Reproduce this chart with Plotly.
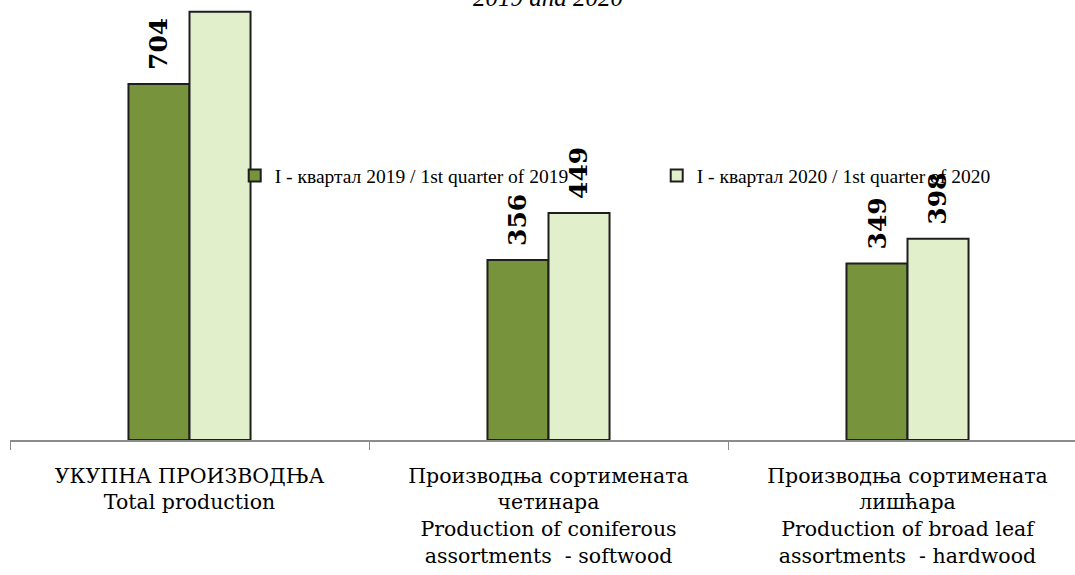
import plotly.graph_objects as go

categories = [
    "УКУПНА ПРОИЗВОДЊА<br>Total production",
    "Производња сортимената<br>четинара<br>Production of coniferous<br>assortments  - softwood",
    "Производња сортимената<br>лишћара<br>Production of broad leaf<br>assortments  - hardwood",
]
series_names = ["I - квартал 2019 / 1st quarter of 2019", "I - квартал 2020 / 1st quarter of 2020"]
q1_2019 = [704, 356, 349]
q1_2020 = [847, 449, 398]
title_tail = "2019 and 2020"

colors = ["#77933C", "#E1EFCB"]
Y_MAX = 870
BARGAP = 0.66

fig = go.Figure()
for name, vals, col in zip(series_names, [q1_2019, q1_2020], colors):
    fig.add_trace(go.Bar(
        x=categories, y=vals, name=name,
        marker=dict(color=col, line=dict(color="#1E1E1E", width=2)),
    ))

# value labels, rotated, above each bar
half = (1 - BARGAP) / 4
for s, vals in enumerate([q1_2019, q1_2020]):
    off = -half if s == 0 else half
    for i, v in enumerate(vals):
        if v > Y_MAX * 0.9:
            continue  # label falls outside the visible area in the reference
        fig.add_annotation(
            x=i + off, y=v, xref="x", yref="y", text="<b>" + str(v) + "</b>", showarrow=False,
            textangle=-90, yanchor="bottom", xanchor="center", yshift=12,
            font=dict(family="DejaVu Serif", size=25, color="#000000"),
        )

fig.add_annotation(
    x=(548 - 10) / 1065, y=1, xref="paper", yref="paper", text="<i>" + title_tail + "</i>",
    showarrow=False, xanchor="center", yanchor="middle", yshift=3,
    font=dict(family="Liberation Serif", size=25, color="#000000"),
)

fig.update_layout(
    width=1075, height=575,
    margin=dict(l=10, r=0, t=0, b=135, autoexpand=False),
    paper_bgcolor="white", plot_bgcolor="white",
    barmode="group", bargap=BARGAP, bargroupgap=0,
    showlegend=True,
    legend=dict(
        orientation="h", x=0.211, y=0.645, xanchor="left", yanchor="top",
        entrywidth=377, entrywidthmode="pixels",
        font=dict(family="Liberation Serif", size=19.5, color="#000000"),
        bgcolor="rgba(0,0,0,0)",
    ),
    xaxis=dict(
        range=[-0.5, -0.5 + 1065 / 359], showline=True, linecolor="#8C8C8C", linewidth=2,
        ticks="outside", tickson="boundaries", ticklen=8, tickcolor="#8C8C8C", tickwidth=1,
        tickfont=dict(family="DejaVu Serif", size=20.5, color="#000000"),
        showgrid=False, zeroline=False, ticklabelstandoff=16,
    ),
    yaxis=dict(range=[0, Y_MAX], visible=False, showgrid=False, zeroline=False),
)

fig.write_html("out.html", config={"displayModeBar": False},
               post_script="document.body.style.margin='0';")
